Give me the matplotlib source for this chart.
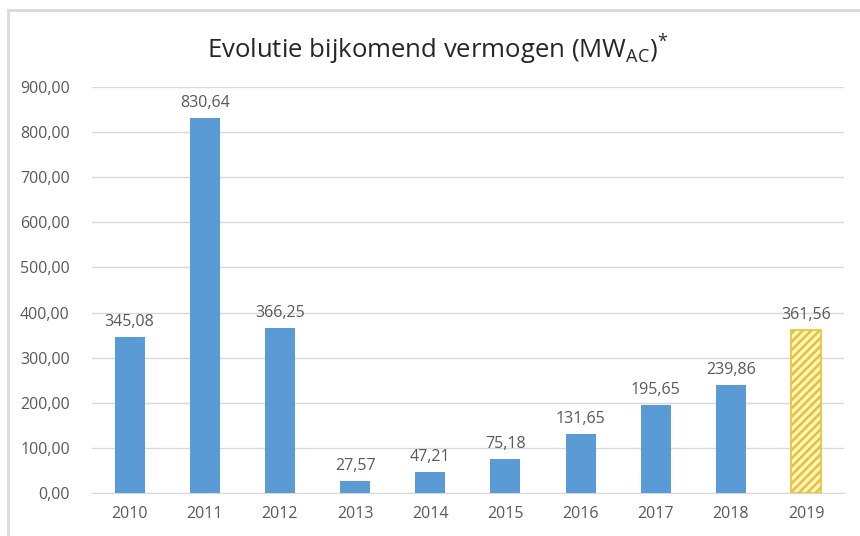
import matplotlib
matplotlib.use("Agg")
import matplotlib.pyplot as plt
from matplotlib.lines import Line2D
import numpy as np

# data
years = ["2010", "2011", "2012", "2013", "2014", "2015", "2016", "2017", "2018", "2019"]
values = [345.08, 830.64, 366.25, 27.57, 47.21, 75.18, 131.65, 195.65, 239.86, 361.56]
labels = ["345,08", "830,64", "366,25", "27,57", "47,21", "75,18",
          "131,65", "195,65", "239,86", "361,56"]
yticks = [0, 100, 200, 300, 400, 500, 600, 700, 800, 900]

plt.rcParams["font.family"] = ["Open Sans", "DejaVu Sans"]
plt.rcParams["mathtext.fontset"] = "custom"
plt.rcParams["mathtext.rm"] = "Open Sans"
plt.rcParams["hatch.linewidth"] = 1.8

grey = "#595959"
blue = "#5B9BD5"

fig = plt.figure(figsize=(8.6, 5.36), dpi=100)
ax = fig.add_axes([0.107, 0.0802, 0.874, 0.7575])

x = np.arange(len(years))
ax.bar(x[:-1], values[:-1], width=0.4, color=blue, zorder=3)
ax.bar(x[-1], values[-1], width=0.4, facecolor="#FFF4C2",
       edgecolor="#E6C233", hatch="////", linewidth=1.2, zorder=3)

for xi, v, lab in zip(x, values, labels):
    ax.annotate(lab, (xi, v), xytext=(0, 5), textcoords="offset points",
                ha="center", va="bottom", fontsize=11.5, color=grey)

ax.set_xlim(-0.5, len(years) - 0.5)
ax.set_ylim(0, 900)
ax.set_yticks(yticks)
ax.set_yticklabels(["%d,00" % t for t in yticks])
ax.set_xticks(x)
ax.set_xticklabels(years)
ax.tick_params(axis="both", length=0, labelsize=11.5, labelcolor=grey)
ax.tick_params(axis="y", pad=16)
ax.tick_params(axis="x", pad=9)
ax.grid(axis="y", color="#D9D9D9", linewidth=1, zorder=0)
for side in ["top", "right", "left"]:
    ax.spines[side].set_visible(False)
ax.spines["bottom"].set_color("#D9D9D9")

fig.text(0.509, 0.908, r"Evolutie bijkomend vermogen (MW$_{\mathrm{AC}}$)$^{*}$",
         ha="center", va="center", fontsize=18.5, color="#262626")

# outer frame of the screenshot
fig.add_artist(Line2D([8 / 860, 8 / 860], [0, 1 - 10 / 536],
                      transform=fig.transFigure, color="#D9D9D9", linewidth=2))
fig.add_artist(Line2D([8 / 860, 1], [1 - 10 / 536, 1 - 10 / 536],
                      transform=fig.transFigure, color="#D9D9D9", linewidth=2))

fig.savefig("out.png", dpi=100)
